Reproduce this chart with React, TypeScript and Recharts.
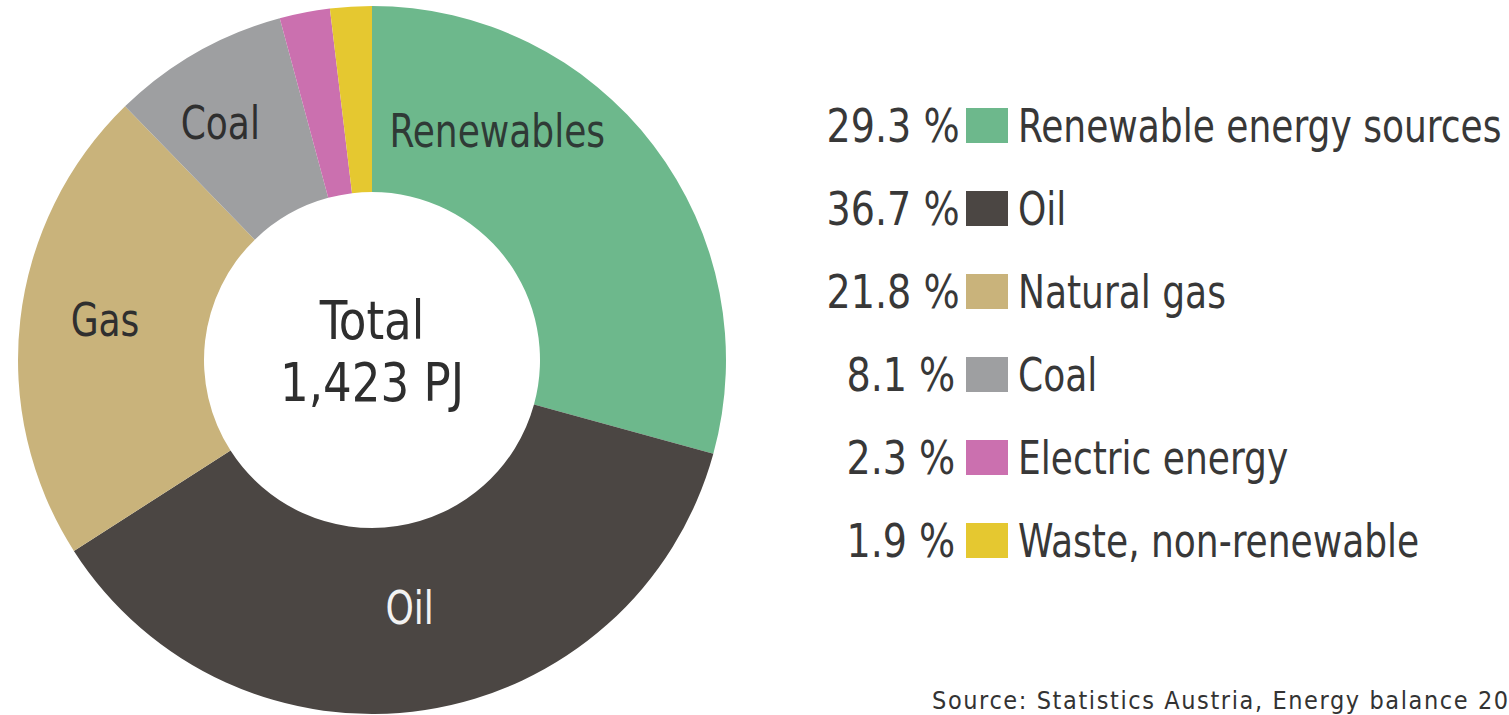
import { Legend, Pie, PieChart, Cell } from "recharts";

const names = ["Renewables", "Oil", "Gas", "Coal", "Electric", "Waste"];
const legendNames = [
  "Renewable energy sources",
  "Oil",
  "Natural gas",
  "Coal",
  "Electric energy",
  "Waste, non-renewable",
];
const shares = [29.3, 36.7, 21.8, 8.1, 2.3, 1.9];
const colors = ["#6db88c", "#4b4643", "#c9b37b", "#9e9fa1", "#cb70af", "#e5c830"];
const sliceLabels = ["Renewables", "Oil", "Gas", "Coal", "", ""];
const labelColors = ["#2f3a36", "#f2f2f2", "#2f2f2f", "#2f2f2f", "", ""];
// renewables label sits closer to the top than its mid angle
const labelAngleShift = [24, 0, -2, 3, 0, 0];
const labelRadiusShift = [0, -10, 9, 20, 0, 0];
const totalLines = ["Total", "1,423 PJ"];
const source = "Source: Statistics Austria, Energy balance 2020";

const data = names.map((name, i) => ({ name, value: shares[i] }));

const FONT = '"DejaVu Sans Condensed", "DejaVu Sans", sans-serif';
const RAD = Math.PI / 180;
const CX = 372;
const CY = 360;

const renderSliceLabel = (props: any) => {
  const { cx, cy, midAngle, innerRadius, outerRadius, index } = props;
  const text = sliceLabels[index];
  if (!text) return null;
  const angle = midAngle + labelAngleShift[index];
  const r = (innerRadius + outerRadius) / 2 + labelRadiusShift[index];
  const x = cx + r * Math.cos(-angle * RAD);
  const y = cy + r * Math.sin(-angle * RAD);
  return (
    <text
      transform={`translate(${x},${y}) scale(0.87,1)`}
      fill={labelColors[index]}
      textAnchor="middle"
      dominantBaseline="central"
      fontFamily={FONT}
      fontSize={46}
    >
      {text}
    </text>
  );
};

const LegendRows = () => (
  <div style={{ fontFamily: FONT, fontSize: 46, color: "#383838" }}>
    {legendNames.map((n, i) => (
      <div
        key={n}
        style={{ display: "flex", alignItems: "center", height: 83, whiteSpace: "nowrap" }}
      >
        <span style={{ width: 140, textAlign: "right" }}>
          <span style={{ display: "inline-block", transform: "scaleX(0.92)", transformOrigin: "right center" }}>
            {shares[i].toFixed(1)} %
          </span>
        </span>
        <span
          style={{
            width: 42,
            height: 35,
            background: colors[i],
            marginLeft: 11,
            marginRight: 10,
            flex: "none",
          }}
        />
        <span style={{ display: "inline-block", transform: "scaleX(0.87)", transformOrigin: "left center" }}>
          {n}
        </span>
      </div>
    ))}
  </div>
);

export default function App() {
  return (
    <div style={{ position: "absolute", left: 0, top: 0, width: 1509, height: 715, background: "#fff", overflow: "hidden" }}>
      <PieChart width={1509} height={715} margin={{ top: 0, right: 0, bottom: 0, left: 0 }}>
        <Pie
          data={data}
          dataKey="value"
          nameKey="name"
          cx={CX}
          cy={CY}
          innerRadius={168}
          outerRadius={354}
          startAngle={90}
          endAngle={-270}
          stroke="none"
          label={renderSliceLabel}
          labelLine={false}
          isAnimationActive={false}
        >
          {data.map((d, i) => (
            <Cell key={d.name} fill={colors[i]} />
          ))}
        </Pie>
        <Legend
          layout="vertical"
          content={LegendRows}
          wrapperStyle={{ left: 815, top: 84, width: 694 }}
        />
        <g fontFamily={FONT} fontSize={54} fill="#2e2e2e" textAnchor="middle">
          <text transform={`translate(${CX},${CY - 40}) scale(0.93,1)`} dominantBaseline="central">
            {totalLines[0]}
          </text>
          <text transform={`translate(${CX},${CY + 22}) scale(0.93,1)`} dominantBaseline="central">
            {totalLines[1]}
          </text>
        </g>
        <text x={932} y={709} fontFamily={FONT} fontSize={25} letterSpacing={1.6} fill="#333">
          {source}
        </text>
      </PieChart>
    </div>
  );
}
